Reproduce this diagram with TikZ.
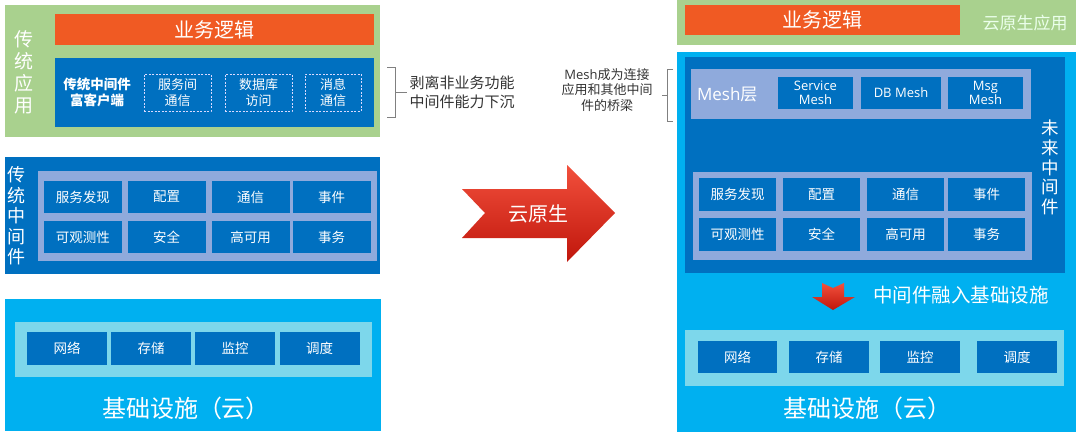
\documentclass[tikz,border=0pt]{standalone}
\usepackage{fontspec}
\setmainfont{Noto Sans CJK SC}
\newfontfamily\latinfont{Open Sans}
\usepackage{tikz}
\usetikzlibrary{positioning}

\definecolor{appgreen}{RGB}{169,209,142}
\definecolor{bizorange}{RGB}{240,90,35}
\definecolor{mwblue}{RGB}{0,112,192}
\definecolor{framegrey}{RGB}{143,170,220}
\definecolor{cloudcyan}{RGB}{0,176,240}
\definecolor{infraframe}{RGB}{125,215,235}
\definecolor{arrowtop}{RGB}{242,80,60}
\definecolor{arrowbot}{RGB}{192,22,12}

\begin{document}
\begin{tikzpicture}[x=1pt, y=-1pt,
    box/.style={inner sep=0pt, outer sep=0pt, text=white, align=center},
    cell/.style={box, fill=mwblue, minimum height=32pt, font=\fontsize{13.5}{16}\selectfont},
    dashcell/.style={box, draw=blue!15!white, line width=0.7pt, dash pattern=on 2pt off 1.5pt,
      minimum width=67pt, minimum height=37pt, font=\fontsize{13}{16}\selectfont},
    vlabel/.style={box, font=\fontsize{18}{20.5}\selectfont},
    note/.style={align=center, inner sep=0pt, text=black!80}]
    \useasboundingbox (0,0) rectangle (1080,445);

    % left: traditional application
    \node[box, fill=appgreen, minimum width=375pt, minimum height=132pt] (lapp) at (192.5,71) {};
    \node[box, fill=bizorange, minimum width=319pt, minimum height=31pt, font=\fontsize{20}{24}\selectfont] (lbiz) at (214.5,29.5) {业务逻辑};
    \node[box, fill=mwblue, minimum width=319pt, minimum height=69pt] (lclient) at (214.5,92.5) {};
    \node[vlabel, font=\fontsize{19}{22}\selectfont] (lapplbl) at (24,72) {传\\统\\应\\用};
    \node[box, font=\bfseries\fontsize{13.5}{16}\selectfont] (lclientlbl) at (97,92.5) {传统中间件\\富客户端};
    \node[dashcell] (lrpc) at (177.5,92.5) {服务间\\通信};
    \node[dashcell] (ldb) at (258.5,92.5) {数据库\\访问};
    \node[dashcell, minimum width=56pt] (lmsg) at (333,92.5) {消息\\通信};
    \draw[gray, line width=0.6pt] (387,67) -- (395,67) -- (395,117) -- (387,117);
    \draw[gray, line width=0.6pt] (395,92) -- (407,92);
    \node[note, font=\fontsize{15}{19}\selectfont] (lnote) at (462,92.5) {剥离非业务功能\\中间件能力下沉};

    % left: traditional middleware
    \node[box, fill=mwblue, minimum width=375pt, minimum height=117pt] (lmw) at (192.5,215.5) {};
    \node[vlabel] (lmwlbl) at (17,216) {传\\统\\中\\间\\件};
    \node[box, fill=framegrey, minimum width=339pt, minimum height=90pt] (lmwframe) at (207.5,216) {};
    \node[cell, minimum width=78pt] (lsd) at (83,197) {服务发现};
    \node[cell, minimum width=78pt] (lconf) at (166.5,197) {配置};
    \node[cell, minimum width=78pt] (lcomm) at (250.5,197) {通信};
    \node[cell, minimum width=78pt] (levent) at (331.5,197) {事件};
    \node[cell, minimum width=78pt] (lobs) at (83,237) {可观测性};
    \node[cell, minimum width=78pt] (lsec) at (166.5,237) {安全};
    \node[cell, minimum width=78pt] (lha) at (250.5,237) {高可用};
    \node[cell, minimum width=78pt] (ltx) at (331.5,237) {事务};

    % left: infrastructure
    \node[box, fill=cloudcyan, minimum width=376pt, minimum height=132pt] (linfra) at (193,365) {};
    \node[box, fill=infraframe, minimum width=357pt, minimum height=55pt] (linfraframe) at (193.5,349.5) {};
    \node[cell, minimum width=80pt, minimum height=33pt] (lnet) at (67,348.5) {网络};
    \node[cell, minimum width=80pt, minimum height=33pt] (lstore) at (151,348.5) {存储};
    \node[cell, minimum width=80pt, minimum height=33pt] (lmon) at (235,348.5) {监控};
    \node[cell, minimum width=80pt, minimum height=33pt] (lsched) at (319.5,348.5) {调度};
    \node[box, font=\fontsize{24}{28}\selectfont] (linfralbl) at (186,408) {基础设施（云）};

    % cloud native arrow
    \shade[top color=arrowtop, bottom color=arrowbot]
      (462,189) -- (567,189) -- (567,165) -- (615,213) -- (567,262) -- (567,238) -- (462,238) -- (485,213) -- cycle;
    \node[box, font=\fontsize{20}{24}\selectfont] (cloudlbl) at (538,214) {云原生};

    % right: cloud native application
    \node[box, fill=appgreen, minimum width=399pt, minimum height=45pt] (rapp) at (876.5,22.5) {};
    \node[box, fill=bizorange, minimum width=275pt, minimum height=30pt, font=\fontsize{20}{24}\selectfont] (rbiz) at (822.5,20) {业务逻辑};
    \node[box, text=white!92!green, font=\fontsize{17}{20}\selectfont] (rapplbl) at (1025,23) {云原生应用};

    % right: future middleware
    \node[box, fill=cloudcyan, minimum width=399pt, minimum height=380pt] (rinfra) at (876.5,242) {};
    \node[box, fill=mwblue, minimum width=380pt, minimum height=216pt] (rmw) at (875,165) {};
    \node[box, fill=framegrey, minimum width=340pt, minimum height=50pt] (meshframe) at (861,94) {};
    \node[box, anchor=west, font=\fontsize{17}{20}\selectfont] (meshlbl) at (697,95) {{\latinfont Mesh}层};
    \node[cell, minimum width=75pt, font=\latinfont\fontsize{13}{14.5}\selectfont] (svcmesh) at (815.5,93) {Service\\Mesh};
    \node[cell, minimum width=80pt, font=\latinfont\fontsize{13}{14.5}\selectfont] (dbmesh) at (901,93) {DB Mesh};
    \node[cell, minimum width=75pt, font=\latinfont\fontsize{13}{14.5}\selectfont] (msgmesh) at (985.5,93) {Msg\\Mesh};
    \node[vlabel, font=\fontsize{17.5}{19.8}\selectfont] (rmwlbl) at (1050,167.5) {未\\来\\中\\间\\件};
    \node[box, fill=framegrey, minimum width=339pt, minimum height=88pt] (rmwframe) at (862.5,216) {};
    \node[cell, minimum width=77pt, minimum height=33pt] (rsd) at (737.5,194.5) {服务发现};
    \node[cell, minimum width=77pt, minimum height=33pt] (rconf) at (821.5,194.5) {配置};
    \node[cell, minimum width=77pt, minimum height=33pt] (rcomm) at (905.5,194.5) {通信};
    \node[cell, minimum width=77pt, minimum height=33pt] (revent) at (986.5,194.5) {事件};
    \node[cell, minimum width=77pt, minimum height=33pt] (robs) at (737.5,234.5) {可观测性};
    \node[cell, minimum width=77pt, minimum height=33pt] (rsec) at (821.5,234.5) {安全};
    \node[cell, minimum width=77pt, minimum height=33pt] (rha) at (905.5,234.5) {高可用};
    \node[cell, minimum width=77pt, minimum height=33pt] (rtx) at (986.5,234.5) {事务};

    % mesh note
    \node[note, font=\fontsize{13}{15.5}\selectfont] (meshnote) at (607,90) {{\latinfont Mesh}成为连接\\应用和其他中间\\件的桥梁};
    \draw[gray, line width=0.6pt] (673,69) -- (667,69) -- (667,121) -- (673,121);
    \draw[gray, line width=0.6pt] (667,95) -- (662,95);

    % sinking into infrastructure
    \shade[top color=arrowtop, bottom color=arrowbot]
      (822,283) -- (833,288) -- (844,283) -- (844,297) -- (855,297) -- (833,310) -- (812,297) -- (822,297) -- cycle;
    \node[box, font=\fontsize{19.5}{23}\selectfont] (sinklbl) at (961,295) {中间件融入基础设施};

    % right: infrastructure
    \node[box, fill=infraframe, minimum width=379pt, minimum height=56pt] (rinfraframe) at (874.5,358) {};
    \node[cell, minimum width=79pt] (rnet) at (737.5,357) {网络};
    \node[cell, minimum width=80pt] (rstore) at (829,357) {存储};
    \node[cell, minimum width=80pt] (rmon) at (920,357) {监控};
    \node[cell, minimum width=80pt] (rsched) at (1017,357) {调度};
    \node[box, font=\fontsize{24}{28}\selectfont] (rinfralbl) at (867,408) {基础设施（云）};
  \end{tikzpicture}
\end{document}
